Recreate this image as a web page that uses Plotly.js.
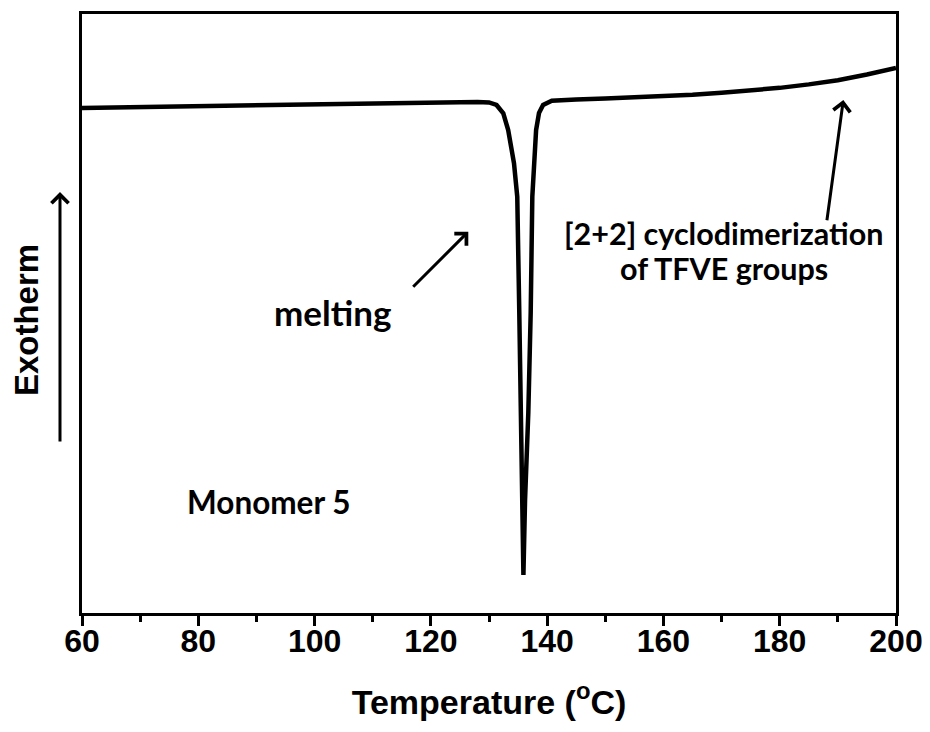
<!DOCTYPE html>
<html>
<head>
<meta charset="utf-8">
<script src="https://cdn.plot.ly/plotly-3.0.1.min.js"></script>
<style>html,body{margin:0;padding:0;background:#fff;}#chart{width:930px;height:732px;}</style>
</head>
<body>
<div id="chart"></div>
<script>
// DSC trace of Monomer 5 (arbitrary heat-flow units, exotherm up)
const temperature = [60, 70, 80, 90, 100, 110, 120, 125, 128, 130, 131.3, 132.46, 133.3, 134.3, 134.86, 135.21, 135.51, 135.8, 135.92, 136.05, 136.2, 136.76, 137.17, 137.45, 137.8, 138.1, 138.6, 139.3, 140.8, 142, 145, 150, 155, 160, 165, 170, 175, 180, 185, 190, 195, 200];
const heatFlow = [84.31, 84.47, 84.64, 84.81, 84.97, 85.06, 85.23, 85.31, 85.31, 85.23, 84.81, 83.42, 80.63, 75.08, 69.50, 50.08, 33.39, 18.86, 6.34, 12.19, 18.86, 33.39, 50.08, 69.50, 77.85, 80.63, 83.47, 84.81, 85.53, 85.64, 85.73, 85.89, 86.08, 86.28, 86.53, 86.86, 87.23, 87.67, 88.25, 88.95, 89.90, 90.98];
const xTickVals = [60, 80, 100, 120, 140, 160, 180, 200];
const xTickText = ["60", "80", "100", "120", "140", "160", "180", "200"];
const labels = {
  xTitle: "Temperature (<sup>o</sup>C)",
  yTitle: "Exotherm",
  melting: "melting",
  cyclo1: "[2+2] cyclodimerization",
  cyclo2: "of TFVE groups",
  sample: "Monomer 5"
};

function annFont(size) { return {family: "Lato, Open Sans, sans-serif", size: size, color: "#000", weight: 700}; }
function axFont(size) { return {family: "Liberation Sans, Arial, sans-serif", size: size, color: "#000", weight: 700}; }

const trace = {
  x: temperature,
  y: heatFlow,
  type: "scatter",
  mode: "lines",
  line: {color: "#000", width: 4.5},
  hoverinfo: "x+y"
};
// empty trace so the tick-mark overlay axis is attached to a subplot
const tickHolder = {x: [], y: [], type: "scatter", mode: "lines", xaxis: "x2", yaxis: "y", showlegend: false, hoverinfo: "skip"};

const layout = {
  width: 930,
  height: 732,
  margin: {l: 82, r: 34, t: 14, b: 119},
  paper_bgcolor: "#fff",
  plot_bgcolor: "#fff",
  showlegend: false,
  xaxis: {
    range: [60, 200],
    tickmode: "array",
    tickvals: xTickVals,
    ticktext: xTickText,
    ticks: "",
    ticklabelstandoff: -2,
    showline: true,
    linewidth: 3,
    linecolor: "#000",
    mirror: true,
    showgrid: false,
    zeroline: false,
    tickfont: axFont(32),
    title: {text: labels.xTitle, font: axFont(34), standoff: 32}
  },
  xaxis2: {
    overlaying: "x",
    matches: "x",
    side: "bottom",
    anchor: "y",
    range: [60, 200],
    tickmode: "array",
    tickvals: xTickVals,
    showticklabels: false,
    ticks: "outside",
    ticklen: 12,
    tickwidth: 3,
    tickcolor: "#000",
    minor: {dtick: 10, ticks: "outside", ticklen: 8, tickwidth: 3, tickcolor: "#000"},
    showline: false,
    showgrid: false,
    zeroline: false
  },
  yaxis: {
    range: [0, 100],
    showticklabels: false,
    ticks: "",
    showline: true,
    linewidth: 3,
    linecolor: "#000",
    mirror: true,
    showgrid: false,
    zeroline: false
  },
  annotations: [
    {xref: "paper", yref: "paper", x: -0.0688, y: 0.489, text: labels.yTitle, textangle: -90,
     showarrow: false, font: axFont(33), xanchor: "center", yanchor: "middle"},
    {xref: "paper", yref: "paper", x: -0.02703, y: 0.7028, ax: 0, ay: 251, text: "", showarrow: true,
     arrowhead: 4, arrowsize: 1.1, arrowwidth: 3, arrowcolor: "#000", standoff: 0},
    {xref: "x", yref: "y", x: 103.09, y: 50.25, text: labels.melting, showarrow: false, font: annFont(35), xanchor: "center", yanchor: "middle"},
    {xref: "x", yref: "y", x: 126.44, y: 63.66, ax: -56.6, ay: 56.6, text: "", showarrow: true,
     arrowhead: 4, arrowsize: 1.1, arrowwidth: 3, arrowcolor: "#000", standoff: 0},
    {xref: "x", yref: "y", x: 170.4, y: 63.44, text: labels.cyclo1, showarrow: false, font: annFont(30.5), xanchor: "center", yanchor: "middle"},
    {xref: "x", yref: "y", x: 170.4, y: 57.60, text: labels.cyclo2, showarrow: false, font: annFont(30.5), xanchor: "center", yanchor: "middle"},
    {xref: "x", yref: "y", x: 190.94, y: 85.64, ax: -16.6, ay: 121.7, text: "", showarrow: true,
     arrowhead: 4, arrowsize: 1.1, arrowwidth: 3, arrowcolor: "#000", standoff: 0},
    {xref: "x", yref: "y", x: 92.0, y: 18.53, text: labels.sample, showarrow: false, font: annFont(31.5), xanchor: "center", yanchor: "middle"}
  ]
};

Plotly.newPlot("chart", [trace, tickHolder], layout, {displayModeBar: false, staticPlot: true});
</script>
</body>
</html>
